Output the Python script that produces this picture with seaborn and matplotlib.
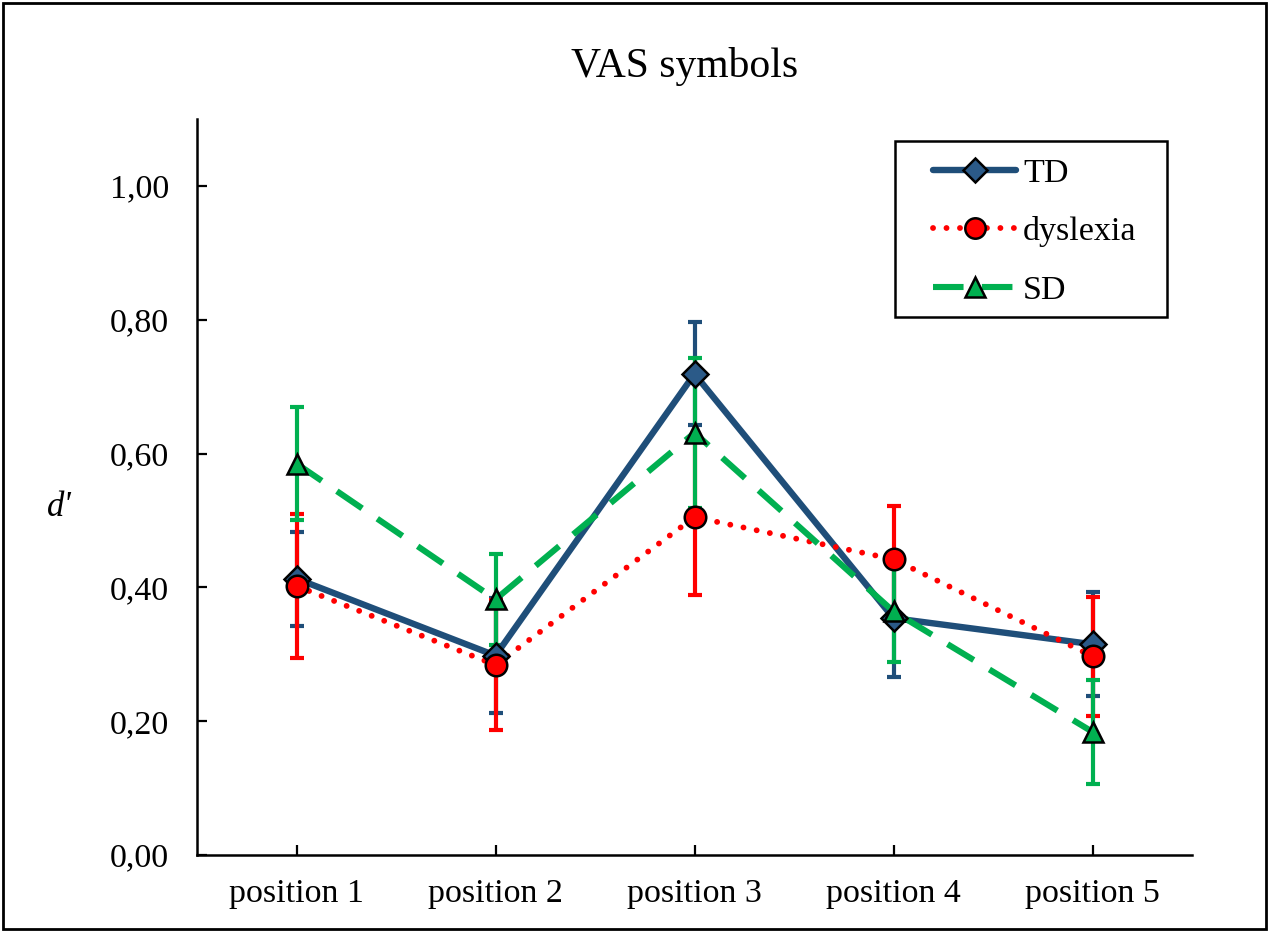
import matplotlib
matplotlib.use("Agg")
import matplotlib.pyplot as plt
import matplotlib.patches as mpatches
from matplotlib.ticker import FuncFormatter, FixedLocator
import seaborn as sns
import pandas as pd

# ---- data ----
positions = ["position 1", "position 2", "position 3", "position 4", "position 5"]
td_mean = [0.413, 0.298, 0.719, 0.354, 0.315]
td_err = [0.070, 0.086, 0.077, 0.088, 0.078]
dys_mean = [0.402, 0.284, 0.505, 0.442, 0.297]
dys_err = [0.108, 0.097, 0.117, 0.080, 0.089]
sd_mean = [0.585, 0.382, 0.631, 0.364, 0.184]
sd_err = [0.085, 0.068, 0.112, 0.076, 0.078]
y_ticks = [0.0, 0.2, 0.4, 0.6, 0.8, 1.0]

sns.set_theme(style="white")
plt.rcParams["font.family"] = ["Liberation Serif", "DejaVu Serif"]
plt.rcParams["text.color"] = "black"
plt.rcParams["xtick.color"] = "black"
plt.rcParams["ytick.color"] = "black"
plt.rcParams["axes.labelcolor"] = "black"

W, H = 1269, 932
fig = plt.figure(figsize=(W / 100, H / 100), dpi=100)
ax = fig.add_axes([197 / W, 1 - 855 / H, (1192 - 197) / W, (855 - 119) / H])

series = [
    ("TD", td_mean, td_err, "#1F4E79", "#2B5A88", "D", 13, dict(linestyle="-", linewidth=4.6)),
    ("dyslexia", dys_mean, dys_err, "#FF0000", "#FF0000", "o", 15.5,
     dict(linestyle=(0, (0.01, 2.3)), linewidth=4.2, dash_capstyle="round")),
    ("SD", sd_mean, sd_err, "#00B050", "#00B050", "^", 15,
     dict(linestyle=(0, (5.0, 3.0)), linewidth=4.4)),
]

# error bars first (TD lowest, then dyslexia, then SD)
for i, (name, m, e, col, fcol, mk, ms, ls) in enumerate(series):
    ax.errorbar(positions, m, yerr=e, fmt="none", ecolor=col, elinewidth=3.0,
                capsize=5.0, capthick=3.0, zorder=2 + i * 0.1)

# lines via seaborn
for i, (name, m, e, col, fcol, mk, ms, ls) in enumerate(series):
    df = pd.DataFrame({"position": positions, "d": m})
    sns.lineplot(data=df, x="position", y="d", ax=ax, color=col, sort=False,
                 zorder=3 + i * 0.1, legend=False, **ls)

# markers
for i, (name, m, e, col, fcol, mk, ms, ls) in enumerate(series):
    ax.plot(positions, m, linestyle="none", marker=mk, markersize=ms,
            markerfacecolor=fcol, markeredgecolor="black", markeredgewidth=1.8,
            zorder=4 + i * 0.1)

ax.set_xlim(-0.5, 4.5)
ax.set_ylim(0, 1.1)
ax.yaxis.set_major_locator(FixedLocator(y_ticks))
ax.yaxis.set_major_formatter(FuncFormatter(lambda v, p: f"{v:.2f}".replace(".", ",")))

for side in ["top", "right"]:
    ax.spines[side].set_visible(False)
for side in ["left", "bottom"]:
    ax.spines[side].set_color("black")
    ax.spines[side].set_linewidth(1.8)

ax.tick_params(axis="both", direction="in", length=7, width=1.6, colors="black",
               labelsize=24.5, left=True, bottom=True)
ax.tick_params(axis="y", pad=20)
ax.tick_params(axis="x", pad=17)
ax.set_xlabel("")
ax.set_ylabel("d'", fontsize=25, style="italic", rotation=0, labelpad=0)
ax.yaxis.set_label_coords(-0.138, 0.45)
ax.grid(False)

fig.text(0.5395, 1 - 77 / H, "VAS symbols", fontsize=30, ha="center", va="baseline")

# legend (frameless) plus its box
handles = []
for name, m, e, col, fcol, mk, ms, ls in series:
    h = plt.Line2D([], [], color=col, marker=mk, markersize=ms * 0.95,
                   markerfacecolor=fcol, markeredgecolor="black", markeredgewidth=1.8, **ls)
    handles.append(h)
leg = fig.legend(handles, [s[0] for s in series], loc="upper left",
                 bbox_to_anchor=(933 / W, 1 - 158 / H),
                 fontsize=24.5, frameon=False, handlelength=2.45, handletextpad=0.2,
                 labelspacing=0.81, borderpad=0, borderaxespad=0)
leg.set_zorder(10)
fig.patches.append(mpatches.Rectangle((895 / W, 1 - 317 / H), (1167 - 895) / W, (317 - 141) / H,
                                      transform=fig.transFigure, facecolor="white",
                                      edgecolor="black", linewidth=1.8, zorder=9))

# figure border
fig.patches.append(mpatches.Rectangle((3 / W, 3 / H), 1 - 6 / W, 1 - 6 / H,
                                      transform=fig.transFigure, fill=False,
                                      edgecolor="black", linewidth=2))

fig.savefig("out.png", dpi=100)
